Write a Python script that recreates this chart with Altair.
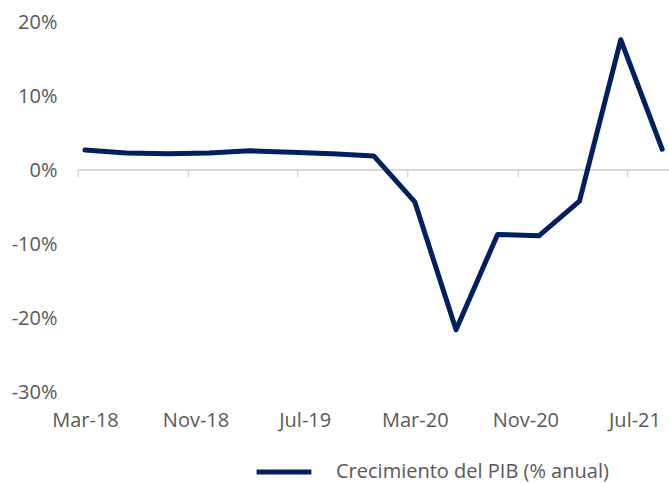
import altair as alt
import pandas as pd

fechas = ["2018-03-01", "2018-06-01", "2018-09-01", "2018-12-01", "2019-03-01",
          "2019-06-01", "2019-09-01", "2019-12-01", "2020-03-01", "2020-06-01",
          "2020-09-01", "2020-12-01", "2021-03-01", "2021-06-01", "2021-09-01"]
pib = [2.7, 2.3, 2.2, 2.3, 2.6, 2.4, 2.2, 1.9, -4.3, -21.6, -8.7, -8.9, -4.2, 17.6, 2.8]
serie = "Crecimiento del PIB (% anual)"

tick_fechas = ["2018-03-01", "2018-11-01", "2019-07-01", "2020-03-01", "2020-11-01", "2021-07-01"]
x_dominio = ["2018-03-01", "2021-10-01"]
y_valores = [-0.3, -0.2, -0.1, 0.0, 0.1, 0.2]

df = pd.DataFrame({"fecha": pd.to_datetime(fechas), "valor": [v / 100 for v in pib], "serie": serie})
ticks_df = pd.DataFrame({"fecha": pd.to_datetime(tick_fechas)})

FONT = "Open Sans"
GREY = "#595959"
NAVY = "#002060"
FS = 20

x_scale = alt.Scale(domain=[pd.Timestamp(d).isoformat() for d in x_dominio], nice=False)
y_scale = alt.Scale(domain=[-0.3, 0.2], nice=False, zero=False)

line = alt.Chart(df).mark_line(strokeWidth=5, strokeJoin="round", strokeCap="round").encode(
    x=alt.X("yearmonth(fecha):T", bandPosition=0.5, scale=x_scale,
            axis=alt.Axis(values=[pd.Timestamp(d).isoformat() for d in tick_fechas],
                          format="%b-%y", labelOffset=7, title=None,
                          labelPadding=18, labelFlush=False, labelOverlap=False)),
    y=alt.Y("valor:Q", scale=y_scale,
            axis=alt.Axis(values=y_valores, title=None, labelPadding=21,
                          labelExpr="replace(format(datum.value, '.0%'), '\u2212', '-')")),
    color=alt.Color("serie:N", scale=alt.Scale(range=[NAVY]),
                    legend=alt.Legend(title=None, orient="none", legendX=176, legendY=420,
                                      symbolType="stroke", symbolStrokeWidth=5, symbolSize=3000,
                                      labelFont=FONT, labelFontSize=FS, labelColor=GREY,
                                      labelOffset=22, labelLimit=400)),
)

zero = alt.Chart(df).mark_rule(color="#d9d9d9", strokeWidth=1.5).encode(
    y=alt.datum(0, title=None)
)

tick_marks = alt.Chart(ticks_df).mark_rule(color="#d9d9d9", strokeWidth=1.5, y2Offset=7).encode(
    x=alt.X("fecha:T", title=None),
    y=alt.datum(0, title=None),
    y2=alt.datum(0),
)

chart = alt.layer(zero, tick_marks, line).properties(
    width=591, height=370,
    autosize=alt.AutoSizeParams(type="none"),
    padding={"left": 78, "top": 22, "right": 0, "bottom": 91},
).configure(background="white").configure_view(strokeWidth=0).configure_axis(
    grid=False, domain=False, ticks=False,
    labelFont=FONT, labelFontSize=FS, labelColor=GREY,
)

chart.save("out.html", embed_options={"renderer": "svg", "actions": False})
